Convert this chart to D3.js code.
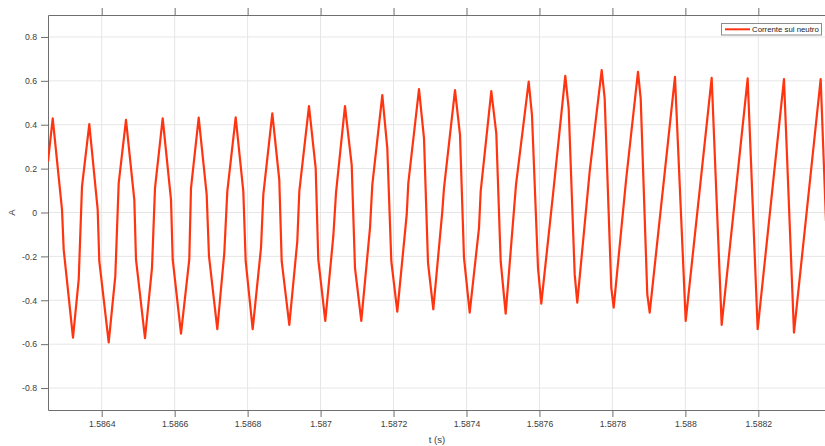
<!DOCTYPE html>
<html>
<head>
<meta charset="utf-8">
<script src="https://cdn.jsdelivr.net/npm/d3@7"></script>
<style>
  body { margin: 0; background: #fff; }
  text { font-family: "Liberation Sans", Arial, Helvetica, sans-serif; fill: #3c3c3c; }
  .grid line { stroke: #e6e6e6; stroke-width: 1; }
  .axis path, .axis line { stroke: #6e6e6e; }
</style>
</head>
<body>
<script>
var width = 825;
var height = 446;

// sampled current on the neutral (time in s, current in A)
var times = [
  1.5862528, 1.5862657, 1.5862912, 1.5862958, 1.5863213, 1.5863370, 1.5863460, 1.5863660,
  1.5863890, 1.5863934, 1.5864192, 1.5864373, 1.5864466, 1.5864666, 1.5864894, 1.5864940,
  1.5865187, 1.5865379, 1.5865461, 1.5865672, 1.5865900, 1.5865946, 1.5866174, 1.5866401,
  1.5866448, 1.5866659, 1.5866878, 1.5866941, 1.5867169, 1.5867361, 1.5867443, 1.5867673,
  1.5867882, 1.5867947, 1.5868139, 1.5868367, 1.5868430, 1.5868677, 1.5868868, 1.5868934,
  1.5869143, 1.5869362, 1.5869417, 1.5869682, 1.5869866, 1.5869937, 1.5870129, 1.5870349,
  1.5870423, 1.5870669, 1.5870853, 1.5870943, 1.5871116, 1.5871355, 1.5871418, 1.5871692,
  1.5871829, 1.5871939, 1.5872103, 1.5872361, 1.5872405, 1.5872698, 1.5872835, 1.5872945,
  1.5873090, 1.5873337, 1.5873383, 1.5873685, 1.5873822, 1.5873931, 1.5874088, 1.5874343,
  1.5874389, 1.5874680, 1.5874817, 1.5874937, 1.5875074, 1.5875357, 1.5875705, 1.5875795,
  1.5875960, 1.5876050, 1.5876371, 1.5876708, 1.5876801, 1.5876966, 1.5877037, 1.5877377,
  1.5877706, 1.5877788, 1.5877969, 1.5878035, 1.5878380, 1.5878701, 1.5878775, 1.5878956,
  1.5879022, 1.5879715, 1.5880009, 1.5880721, 1.5880995, 1.5881708, 1.5881982, 1.5882703,
  1.5882977, 1.5883709, 1.5883855
];
var current = [
  0.232, 0.429, 0.013, -0.169, -0.570, -0.305, 0.119, 0.403,
  0.013, -0.222, -0.592, -0.290, 0.134, 0.422, 0.058, -0.214,
  -0.573, -0.252, 0.111, 0.429, 0.058, -0.214, -0.552, -0.214,
  0.111, 0.432, 0.081, -0.199, -0.532, -0.184, 0.096, 0.434,
  0.096, -0.222, -0.532, -0.161, 0.081, 0.452, 0.149, -0.222,
  -0.512, -0.131, 0.096, 0.485, 0.202, -0.214, -0.494, -0.108,
  0.089, 0.485, 0.217, -0.252, -0.494, -0.070, 0.126, 0.535,
  0.293, -0.222, -0.452, -0.010, 0.134, 0.562, 0.339, -0.229,
  -0.441, 0.005, 0.111, 0.558, 0.354, -0.206, -0.456, -0.070,
  0.096, 0.553, 0.361, -0.222, -0.461, 0.126, 0.596, 0.444,
  -0.252, -0.415, 0.081, 0.623, 0.475, -0.282, -0.411, 0.187,
  0.649, 0.520, -0.343, -0.433, 0.157, 0.641, 0.520, -0.373,
  -0.456, 0.618, -0.494, 0.614, -0.512, 0.611, -0.532, 0.608,
  -0.547, 0.608, -0.040
];
var xTicks = [1.5864, 1.5866, 1.5868, 1.587, 1.5872, 1.5874, 1.5876, 1.5878, 1.588, 1.5882];
var yTicks = [-0.8, -0.6, -0.4, -0.2, 0, 0.2, 0.4, 0.6, 0.8];
var seriesName = "Corrente sul neutro";

var margin = {left: 48, top: 15, right: 826, bottom: 410};

var x = d3.scaleLinear()
    .domain([1.5862528, 1.5883855])
    .range([margin.left, margin.right]);
var y = d3.scaleLinear()
    .domain([-0.9, 0.9])
    .range([margin.bottom, margin.top]);

var svg = d3.select("body")
    .append("svg")
    .attr("width", width)
    .attr("height", height);

svg.append("defs").append("clipPath")
    .attr("id", "plotclip")
    .append("rect")
    .attr("x", margin.left)
    .attr("y", margin.top)
    .attr("width", margin.right - margin.left)
    .attr("height", margin.bottom - margin.top);

// grid
var grid = svg.append("g").attr("class", "grid");
grid.selectAll(".gx")
    .data(xTicks)
    .enter()
    .append("line")
    .attr("x1", function(d) { return x(d); })
    .attr("x2", function(d) { return x(d); })
    .attr("y1", margin.top)
    .attr("y2", margin.bottom);
grid.selectAll(".gy")
    .data(yTicks)
    .enter()
    .append("line")
    .attr("x1", margin.left)
    .attr("x2", margin.right)
    .attr("y1", function(d) { return y(d); })
    .attr("y2", function(d) { return y(d); });

var fmt = function(d) { return String(+d.toFixed(4)); };

// axes
svg.append("g")
    .attr("class", "axis")
    .attr("transform", "translate(0," + margin.bottom + ")")
    .call(d3.axisBottom(x).tickValues(xTicks).tickFormat(fmt).tickSizeOuter(0).tickSizeInner(7).tickPadding(4))
    .call(function(g) { g.selectAll("text").style("font-size", "8.7px"); });

svg.append("g")
    .attr("class", "axis")
    .attr("transform", "translate(0," + margin.top + ")")
    .call(d3.axisTop(x).tickValues(xTicks).tickFormat("").tickSizeOuter(0).tickSizeInner(7));

svg.append("g")
    .attr("class", "axis")
    .attr("transform", "translate(" + margin.left + ",0)")
    .call(d3.axisLeft(y).tickValues(yTicks).tickFormat(function(d) { return String(+d.toFixed(1)); }).tickSizeOuter(0).tickSizeInner(7).tickPadding(4))
    .call(function(g) { g.selectAll("text").style("font-size", "8.7px"); });

// axis labels
svg.append("text")
    .attr("x", (margin.left + margin.right) / 2)
    .attr("y", 443)
    .attr("text-anchor", "middle")
    .style("font-size", "9.5px")
    .text("t (s)");

svg.append("text")
    .attr("transform", "translate(15," + y(0) + ") rotate(-90)")
    .attr("text-anchor", "middle")
    .style("font-size", "9.5px")
    .text("A");

// signal
var data = times.map(function(t, i) { return [t, current[i]]; });
var line = d3.line()
    .x(function(d) { return x(d[0]); })
    .y(function(d) { return y(d[1]); });

svg.append("path")
    .datum(data)
    .attr("clip-path", "url(#plotclip)")
    .attr("fill", "none")
    .attr("stroke", "#ff3512")
    .attr("stroke-width", 2.2)
    .attr("stroke-linejoin", "round")
    .attr("d", line);

// legend
var legend = svg.append("g").attr("transform", "translate(721,23)");
legend.append("rect")
    .attr("x", 0.5)
    .attr("y", 0.5)
    .attr("width", 100)
    .attr("height", 11.5)
    .attr("fill", "#fff")
    .attr("stroke", "#8c8c8c")
    .attr("stroke-width", 1);
legend.append("line")
    .attr("x1", 4)
    .attr("x2", 29)
    .attr("y1", 6.3)
    .attr("y2", 6.3)
    .attr("stroke", "#ff3512")
    .attr("stroke-width", 2);
legend.append("text")
    .attr("x", 31)
    .attr("y", 9)
    .style("font-size", "7.8px")
    .style("fill", "#222")
    .text(seriesName);
</script>
</body>
</html>
